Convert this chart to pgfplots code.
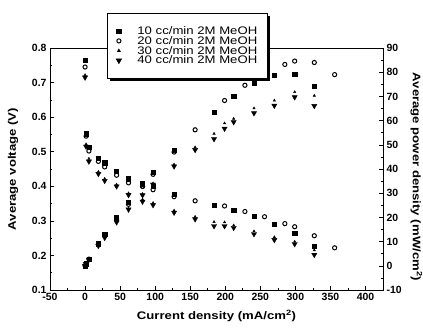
\documentclass[border=0pt]{standalone}
\usepackage{pgfplots}
\pgfplotsset{compat=1.18}
\usepackage{fontspec}
\setmainfont{Liberation Sans}
\newfontfamily\widefont[FakeStretch=1.2]{Liberation Sans}
\usetikzlibrary{shadows}

% columns: I (mA/cm^2), V (V), P (mW/cm^2)
\pgfplotstableread{
I V P
0 0.765 0
1.5 0.552 0.83
5.5 0.512 2.82
19 0.482 9.16
28 0.468 13.1
45 0.443 19.9
62 0.422 26.2
82 0.410 33.6
97 0.400 38.8
127 0.377 47.9
184 0.345 63.5
212 0.330 70.0
241 0.313 75.4
270 0.291 78.6
299 0.265 79.2
327 0.227 74.2
}\tenCC
\pgfplotstableread{
I V P
0 0.745 0
1.5 0.545 0.82
5.5 0.502 2.76
19 0.472 8.97
28 0.456 12.8
45 0.432 19.4
62 0.410 25.4
82 0.400 32.8
97 0.390 37.8
127 0.370 47.0
157 0.358 56.2
199 0.343 68.3
228 0.327 74.6
256 0.312 79.9
285 0.292 83.2
299 0.283 84.6
327 0.257 84.0
356 0.222 79.0
}\twentyCC
\pgfplotstableread{
I V P
0 0.722 0
1.5 0.522 0.78
5.5 0.480 2.64
19 0.442 8.40
28 0.422 11.8
45 0.405 18.2
62 0.380 23.6
82 0.362 29.7
97 0.352 34.1
127 0.330 41.9
157 0.312 49.0
184 0.297 54.6
199 0.296 58.9
212 0.287 60.8
241 0.270 65.1
270 0.253 68.3
299 0.240 71.8
327 0.215 70.3
}\thirtyCC
\pgfplotstableread{
I V P
0 0.715 0
1.5 0.515 0.77
5.5 0.472 2.60
19 0.436 8.28
28 0.416 11.6
45 0.400 18.0
62 0.375 23.3
82 0.356 29.2
97 0.346 33.6
127 0.324 41.1
157 0.305 47.9
184 0.285 52.4
199 0.285 56.7
212 0.280 59.4
241 0.262 63.1
270 0.245 66.2
299 0.233 69.7
327 0.202 66.1
}\fortyCC

\pgfplotsset{
  common/.style={
    scale only axis, width=333bp, height=242bp,
    xmin=-50, xmax=425,
    tick align=inside,
    major tick length=4pt, minor tick length=2pt,
    every tick/.style={black, line width=0.6pt},
    axis line style={line width=0.8pt},
    tick label style={font=\fontsize{10.5}{11}\selectfont\bfseries},
    label style={font=\widefont\fontsize{11}{12}\selectfont\bfseries},
    /pgf/number format/assume math mode=true,
  },
  msq/.style={only marks, mark=square*, mark size=2.1pt, black},
  mci/.style={only marks, mark=o, mark size=2.1pt, black, mark options={line width=1pt}},
  mtu/.style={only marks, mark=triangle*, mark size=1.4pt, black},
  mtd/.style={only marks, mark=triangle*, mark size=3pt, black, mark options={rotate=180}},
}

\begin{document}
\begin{tikzpicture}
\useasboundingbox (-50bp,-39bp) rectangle (373bp,290bp);
\begin{axis}[common,
  ymin=0.1, ymax=0.8,
  xtick={-50,0,...,400}, minor x tick num=1,
  ytick={0.1,0.2,...,0.8}, minor y tick num=1,
  xtick pos=bottom, ytick pos=left,
  yticklabel style={/pgf/number format/fixed, /pgf/number format/precision=1, /pgf/number format/fixed zerofill},
  xlabel={Current density (mA/cm\textsuperscript{2})},
  ylabel={Average voltage (V)},
  xlabel style={yshift=-2pt},
  ylabel style={yshift=7pt},
]
\addplot[msq] table[x=I,y=V] {\tenCC};
\addplot[mci] table[x=I,y=V] {\twentyCC};
\addplot[mtu] table[x=I,y=V] {\thirtyCC};
\addplot[mtd] table[x=I,y=V] {\fortyCC};
\end{axis}
\begin{axis}[common,
  ymin=-10, ymax=90,
  axis x line=none, axis y line*=right,
  ytick={-10,0,...,90}, minor y tick num=1,
  ylabel={Average power density (mW/cm\textsuperscript{2})},
  ylabel style={rotate=180, yshift=2pt, xshift=8pt},
  legend style={at={(0.171,1.145)}, anchor=north west, draw=black, line width=0.8pt, fill=white,
    drop shadow={shadow xshift=2.5pt, shadow yshift=-2.5pt, fill=black, opacity=1},
    font=\widefont\fontsize{11}{11}\selectfont, row sep=0pt, inner xsep=9pt, inner ysep=13pt,
    nodes={inner sep=1pt, text height=7.3pt, text depth=0.5pt},
    /tikz/every odd column/.append style={column sep=15pt}},
  legend image code/.code={\draw[#1] plot coordinates {(0pt,0pt)};},
  legend cell align=left,
]
\addplot[msq] table[x=I,y=P] {\tenCC};
\addlegendentry{10 cc/min 2M MeOH}
\addplot[mci] table[x=I,y=P] {\twentyCC};
\addlegendentry{20 cc/min 2M MeOH}
\addplot[mtu] table[x=I,y=P] {\thirtyCC};
\addlegendentry{30 cc/min 2M MeOH}
\addplot[mtd] table[x=I,y=P] {\fortyCC};
\addlegendentry{40 cc/min 2M MeOH}
\end{axis}
\end{tikzpicture}
\end{document}
